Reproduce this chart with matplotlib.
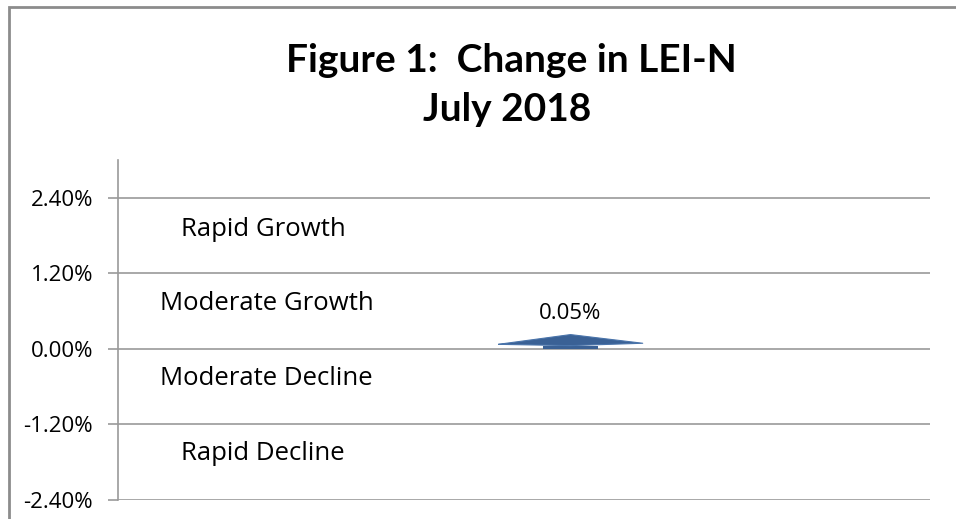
import matplotlib
matplotlib.use("Agg")
import matplotlib.pyplot as plt
from matplotlib.patches import Rectangle

# data
period = "July 2018"
change_value = [0.05]          # % change in LEI-N
point_x = [0.557]
y_ticks = [-2.4, -1.2, 0.0, 1.2, 2.4]
zone_labels = ["Rapid Growth", "Moderate Growth", "Moderate Decline", "Rapid Decline"]
zone_y = [1.9, 0.72, -0.47, -1.66]
zone_x = [0.078, 0.052, 0.052, 0.078]

plt.rcParams['font.family'] = ['Open Sans', 'DejaVu Sans']

fig = plt.figure(figsize=(9.56, 5.19), dpi=100)
ax = fig.add_axes([118/956, 19/519, 812/956, 340/519])

# figure frame (top + left only visible)
fig.add_artist(Rectangle((8.5/956, -0.01), 2, 1 - 6.5/519 + 0.01, transform=fig.transFigure,
                         fill=False, edgecolor='#8c8c8c', linewidth=2))

ax.set_xlim(0, 1)
ax.set_ylim(-2.4, 3.0)
ax.set_yticks(y_ticks)
ax.set_yticklabels([f"{v:.2f}%" for v in y_ticks], fontsize=16)
ax.set_xticks([])
for y in y_ticks:
    ax.axhline(y, color='#9a9a9a', linewidth=1.2, zorder=1)
for s in ['top', 'right', 'bottom']:
    ax.spines[s].set_visible(False)
ax.spines['left'].set_color('#9a9a9a')
ax.spines['left'].set_linewidth(1.2)
ax.tick_params(axis='y', direction='out', length=7, width=1.2, color='#9a9a9a', pad=11)

for lbl, x, y in zip(zone_labels, zone_x, zone_y):
    ax.text(x, y, lbl, fontsize=18.5, va='center', ha='left')

# marker: flat diamond + small bar
ax.bar(point_x, change_value, width=55/812, color='#3a6195', zorder=3)
shape = [(-1, 0.03), (0, 0.165), (1, 0.045), (0, 0.012), (-1, 0.03)]
ax.plot(point_x, change_value, marker=shape, markersize=104, color='#3a6195',
        markeredgecolor='#4a74aa', markeredgewidth=0.8, linestyle='none', zorder=4)
ax.annotate(f"{change_value[0]:.2f}%", (point_x[0], change_value[0]), xytext=(0, 23),
            textcoords='offset points', ha='center', va='center', fontsize=16)

fig.text(511/956, 1 - 61/519, "Figure 1:  Change in LEI-N", ha='center', va='center',
         fontsize=28, fontweight='bold', family=['Lato', 'DejaVu Sans'])
fig.text(507/956, 1 - 110/519, period, ha='center', va='center',
         fontsize=28, fontweight='bold', family=['Lato', 'DejaVu Sans'])

fig.savefig("out.png", dpi=100)
